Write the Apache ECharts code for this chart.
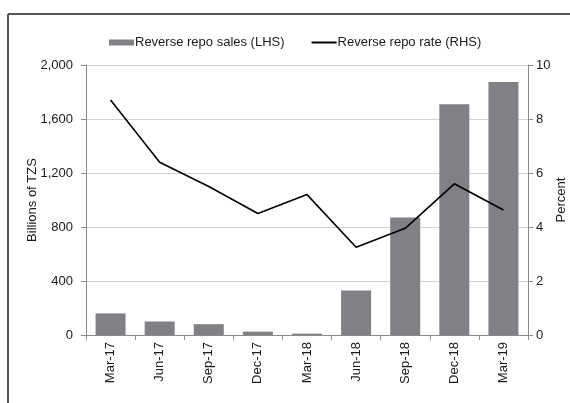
<!DOCTYPE html>
<html>
<head>
<meta charset="utf-8">
<script src="https://cdn.jsdelivr.net/npm/echarts@6/dist/echarts.min.js"></script>
<style>
  html, body { margin: 0; padding: 0; background: #fff; }
  #chart { width: 570px; height: 403px; }
</style>
</head>
<body>
<div id="chart"></div>
<script>
  const categories = ['Mar-17', 'Jun-17', 'Sep-17', 'Dec-17', 'Mar-18', 'Jun-18', 'Sep-18', 'Dec-18', 'Mar-19'];
  const repoSales = [160, 100, 80, 25, 10, 330, 870, 1710, 1875];
  const repoRate = [8.7, 6.4, 5.5, 4.5, 5.2, 3.25, 3.95, 5.6, 4.63];
  const leftTicks = { min: 0, max: 2000, interval: 400 };
  const rightTicks = { min: 0, max: 10, interval: 2 };

  const font = 'Liberation Sans, Arial, Helvetica, sans-serif';
  const axisGray = '#8a8a8a';

  const chart = echarts.init(document.getElementById('chart'));
  const option = {
    backgroundColor: '#fff',
    textStyle: { fontFamily: font, color: '#1a1a1a' },
    graphic: [
      // frame round the figure (only top and left edges show)
      { type: 'line', shape: { x1: 8, y1: 14, x2: 570, y2: 14 }, style: { stroke: '#555', lineWidth: 2 } },
      { type: 'line', shape: { x1: 8, y1: 14, x2: 8, y2: 403 }, style: { stroke: '#555', lineWidth: 2 } }
    ],
    legend: {
      left: 104,
      top: 31,
      itemGap: 26,
      itemWidth: 25,
      itemHeight: 6,
      textStyle: { fontFamily: font, fontSize: 13, color: '#1a1a1a', padding: [0, 0, 0, -4] },
      data: [
        { name: 'Reverse repo sales (LHS)', icon: 'rect' },
        { name: 'Reverse repo rate (RHS)', itemStyle: { opacity: 0 } }
      ]
    },
    grid: { left: 86, right: 42, top: 65, bottom: 68, outerBoundsMode: 'none' },
    xAxis: {
      type: 'category',
      data: categories,
      boundaryGap: true,
      axisLine: { lineStyle: { color: axisGray, width: 1 } },
      axisTick: { show: true, alignWithLabel: false, length: 5, lineStyle: { color: axisGray } },
      axisLabel: { rotate: 90, fontSize: 13, color: '#1a1a1a', margin: 7, fontFamily: font }
    },
    yAxis: [
      {
        type: 'value',
        min: leftTicks.min, max: leftTicks.max, interval: leftTicks.interval,
        name: 'Billions of TZS',
        nameLocation: 'middle',
        nameGap: 47,
        nameMoveOverlap: false,
        nameRotate: 90,
        nameTextStyle: { fontSize: 13, color: '#1a1a1a', fontFamily: font },
        axisLine: { show: true, lineStyle: { color: axisGray } },
        axisTick: { show: true, length: 5, lineStyle: { color: axisGray } },
        axisLabel: {
          fontSize: 13, color: '#1a1a1a', margin: 13, fontFamily: font,
          formatter: v => v.toLocaleString('en-US')
        },
        splitLine: { show: true, lineStyle: { color: '#d2d2d2', width: 1 } }
      },
      {
        type: 'value',
        position: 'right',
        min: rightTicks.min, max: rightTicks.max, interval: rightTicks.interval,
        name: 'Percent',
        nameLocation: 'middle',
        nameGap: 27,
        nameMoveOverlap: false,
        nameRotate: 90,
        nameTextStyle: { fontSize: 13, color: '#1a1a1a', fontFamily: font },
        axisLine: { show: true, lineStyle: { color: axisGray } },
        axisTick: { show: true, length: 5, lineStyle: { color: axisGray } },
        axisLabel: { fontSize: 13, color: '#1a1a1a', margin: 8, fontFamily: font },
        splitLine: { show: false }
      }
    ],
    series: [
      {
        name: 'Reverse repo sales (LHS)',
        type: 'bar',
        yAxisIndex: 0,
        barWidth: 30,
        data: repoSales,
        itemStyle: { color: '#818185' },
        emphasis: { disabled: true }
      },
      {
        name: 'Reverse repo rate (RHS)',
        type: 'line',
        yAxisIndex: 1,
        data: repoRate,
        symbol: 'none',
        lineStyle: { color: '#000', width: 1.6 },
        itemStyle: { color: '#000' },
        emphasis: { disabled: true }
      }
    ],
    animation: false
  };
  chart.setOption(option);
</script>
</body>
</html>
